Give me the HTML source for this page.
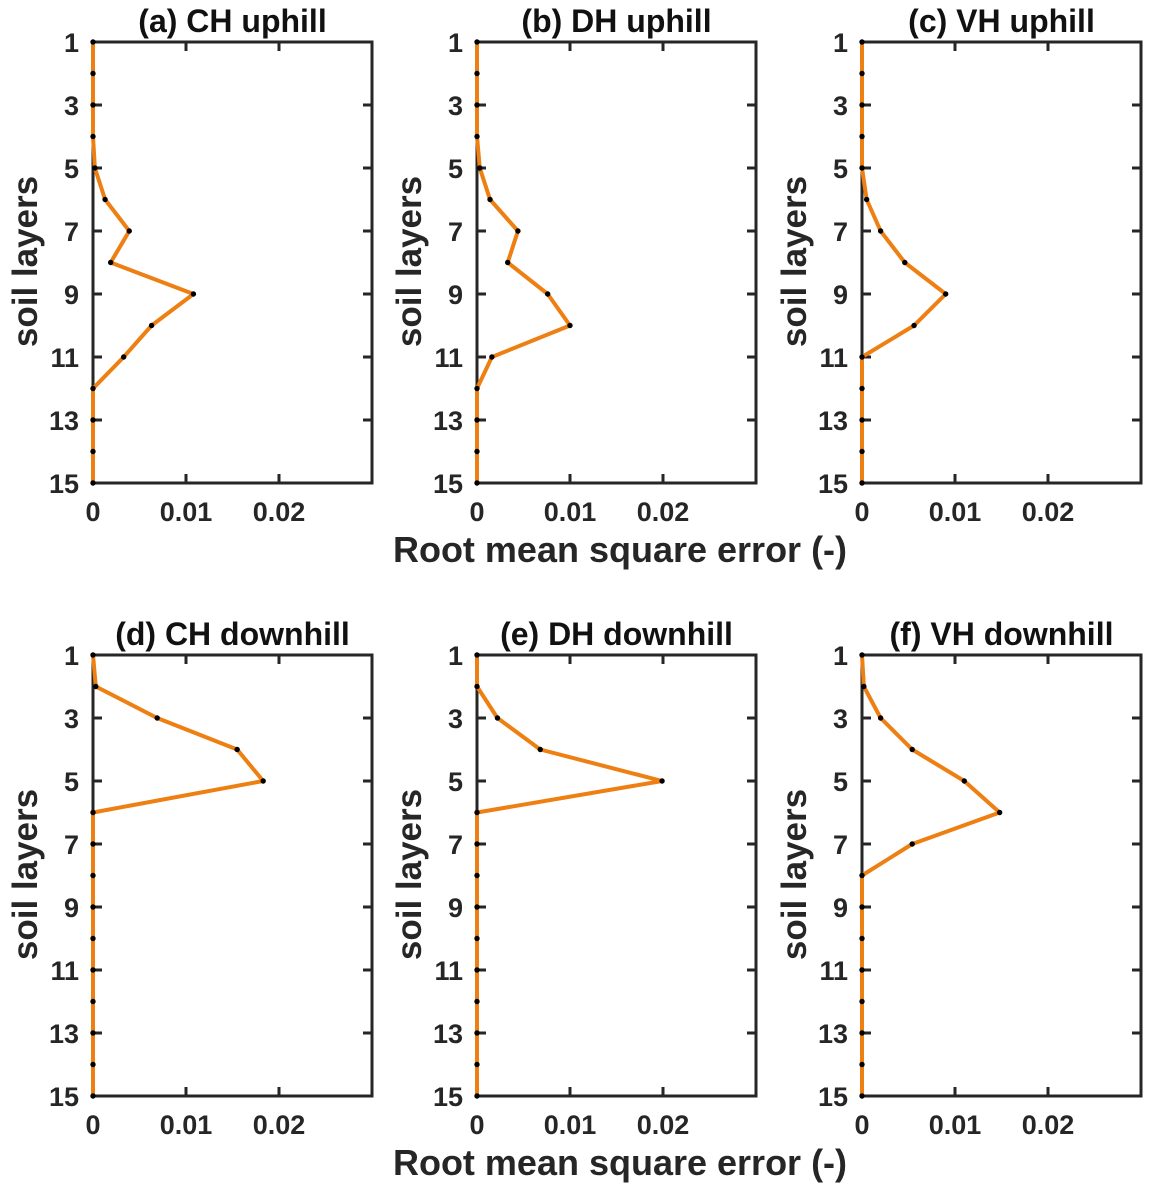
<!DOCTYPE html>
<html><head><meta charset="utf-8"><style>
html,body{margin:0;padding:0;background:#fff;}
svg{display:block;font-family:"Liberation Sans",Arial,sans-serif;font-weight:bold;}
</style></head><body>
<svg id="chart" width="1151" height="1194" viewBox="0 0 1151 1194"></svg>
<script>
const layers=[1,2,3,4,5,6,7,8,9,10,11,12,13,14,15];
const titles=["(a) CH uphill","(b) DH uphill","(c) VH uphill","(d) CH downhill","(e) DH downhill","(f) VH downhill"];
const seriesA=[0,0,0,0,0.0002,0.0013,0.0039,0.0019,0.0108,0.0063,0.0033,0,0,0,0];
const seriesB=[0,0,0,0,0.0003,0.0014,0.0044,0.0033,0.0076,0.0100,0.0016,0,0,0,0];
const seriesC=[0,0,0,0,0,0.0005,0.0020,0.0046,0.0090,0.0056,0,0,0,0,0];
const seriesD=[0,0.0003,0.0069,0.0155,0.0183,0,0,0,0,0,0,0,0,0,0];
const seriesE=[0,0,0.0022,0.0068,0.0199,0,0,0,0,0,0,0,0,0,0];
const seriesF=[0,0.0002,0.0020,0.0054,0.0110,0.0148,0.0054,0,0,0,0,0,0,0,0];
const xTicks=[0,0.01,0.02];
const xTickLabels=["0","0.01","0.02"];
const yTicks=[1,3,5,7,9,11,13,15];
const allSeries=[seriesA,seriesB,seriesC,seriesD,seriesE,seriesF];
const NS="http://www.w3.org/2000/svg";
const svg=document.getElementById("chart");
function mk(tag,attrs,parent){const e=document.createElementNS(NS,tag);for(const k in attrs)e.setAttribute(k,attrs[k]);(parent||svg).appendChild(e);return e;}
const lefts=[93,477,862], tops=[42,655], W=279, H=441, XMAX=0.03;
allSeries.forEach((s,i)=>{
  const L=lefts[i%3], T=tops[Math.floor(i/3)];
  const xs=v=>L+v/XMAX*W, ys=l=>T+(l-1)/14*H;
  const g=mk("g",{});
  
  
  const t=mk("text",{x:L+W/2,y:T-10,"text-anchor":"middle","font-size":"32",fill:"#111"},g);
  t.textContent=titles[i];
  
  
  yTicks.forEach(l=>{
    const y=ys(l);
    mk("line",{x1:L,x2:L+9,y1:y,y2:y,stroke:"#262626","stroke-width":3},g);
    mk("line",{x1:L+W,x2:L+W-9,y1:y,y2:y,stroke:"#262626","stroke-width":3},g);
    const tl=mk("text",{x:L-14,y:y+10,"text-anchor":"end","font-size":"27",fill:"#262626"},g);
    tl.textContent=l;
    
    
  });
  xTicks.forEach((v,j)=>{
    const x=xs(v);
    mk("line",{x1:x,x2:x,y1:T+H,y2:T+H-9,stroke:"#262626","stroke-width":3},g);
    mk("line",{x1:x,x2:x,y1:T,y2:T+9,stroke:"#262626","stroke-width":3},g);
    const tl=mk("text",{x:x,y:T+H+38,"text-anchor":"middle","font-size":"27",fill:"#262626"},g);
    tl.textContent=xTickLabels[j];
    
    
  });
  const frame=mk("rect",{x:L,y:T,width:W,height:H,fill:"none",stroke:"#262626","stroke-width":3},g);
  
  
  const pts=s.map((v,k)=>xs(v)+","+ys(layers[k])).join(" ");
  const line=mk("polyline",{points:pts,fill:"none",stroke:"#EE7F12","stroke-width":4,"stroke-linejoin":"round"},g);
  
  
  s.forEach((v,k)=>{
    const c=mk("circle",{cx:xs(v),cy:ys(layers[k]),r:2.7,fill:"#000"},g);
    
    
  });
  const yl=mk("text",{x:0,y:0,transform:`translate(${L-56},${T+H/2-1}) rotate(-90)`,"text-anchor":"middle","font-size":"35",fill:"#262626"},g);
  yl.textContent="soil layers";
  
  
});
[562,1175].forEach(y=>{
  const xl=mk("text",{x:620,y:y,"text-anchor":"middle","font-size":"36",fill:"#262626"});
  xl.textContent="Root mean square error (-)";
  
  
});
</script>
</body></html>
